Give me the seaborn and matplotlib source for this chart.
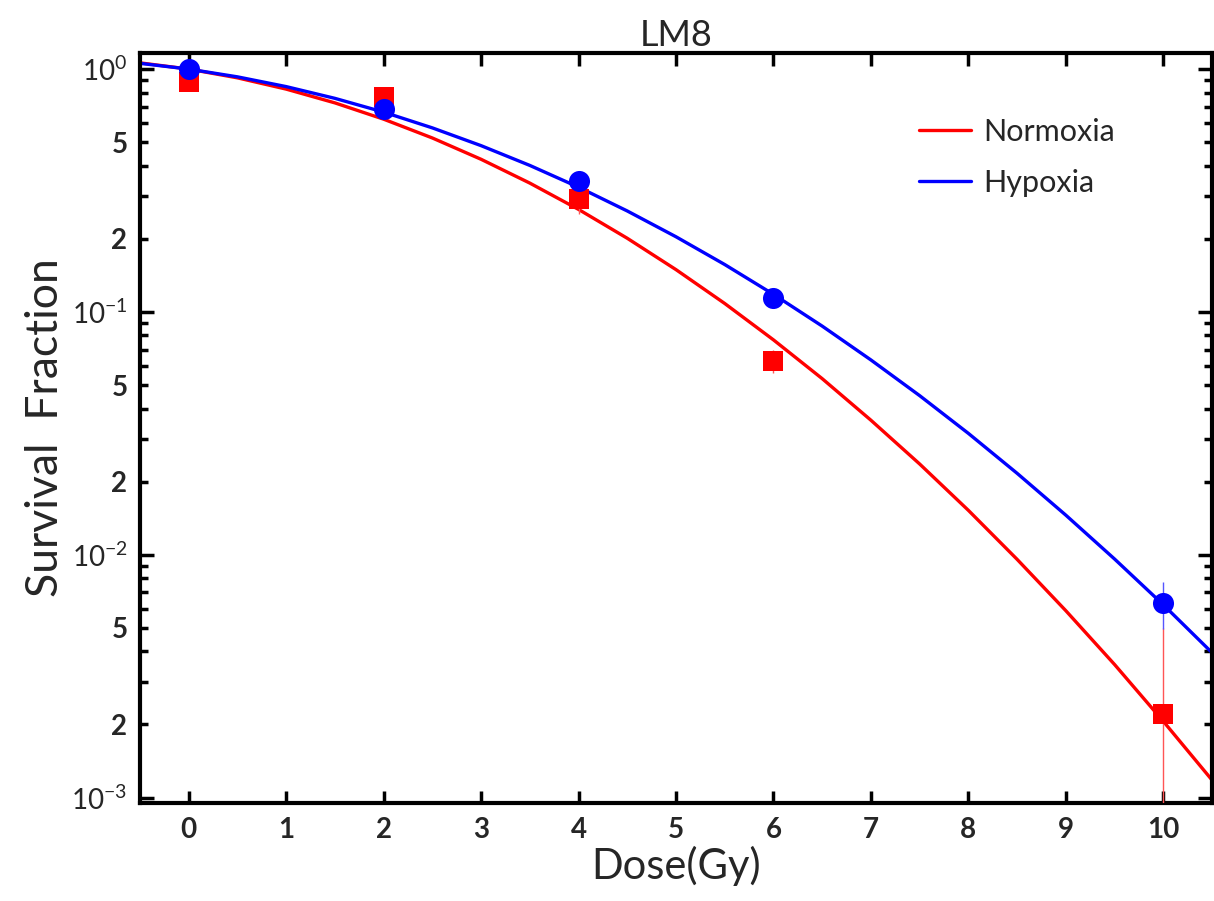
import numpy as np
import pandas as pd
import seaborn as sns
import matplotlib.pyplot as plt
from matplotlib.ticker import FixedLocator, FixedFormatter

# measured points (dose in Gy, survival fraction)
dose_pts = [0, 2, 4, 6, 10]
normoxia_sf = [0.884, 0.767, 0.292, 0.0629, 0.0022]
normoxia_err = [0.02, 0.02, 0.04, 0.007, 0.0028]
hypoxia_sf = [1.0, 0.684, 0.346, 0.114, 0.00634]
hypoxia_err = [0.01, 0.03, 0.01, 0.005, 0.0014]

# fitted curves, every 0.5 Gy
curve_dose = [-0.5, 0, 0.5, 1, 1.5, 2, 2.5, 3, 3.5, 4, 4.5, 5, 5.5,
              6, 6.5, 7, 7.5, 8, 8.5, 9, 9.5, 10, 10.5]
normoxia_fit = [1.061, 1.0, 0.9203, 0.827, 0.7258, 0.6219, 0.5203, 0.4251,
                0.3392, 0.2643, 0.201, 0.1493, 0.1083, 0.0767, 0.0531,
                0.0358, 0.02364, 0.01523, 0.00957, 0.00588, 0.00353,
                0.00206, 0.00118]
hypoxia_fit = [1.056, 1.0, 0.9291, 0.847, 0.7577, 0.665, 0.5726, 0.4838,
               0.4011, 0.3263, 0.2604, 0.2039, 0.1567, 0.1181, 0.0874,
               0.0634, 0.0452, 0.0316, 0.02164, 0.01455, 0.0096,
               0.00622, 0.00395]

conditions = ['Normoxia', 'Hypoxia']
colors = {'Normoxia': '#ff0000', 'Hypoxia': '#0000ff'}
err_colors = {'Normoxia': '#ff5555', 'Hypoxia': '#5555ff'}

curves = pd.DataFrame({
    'dose': curve_dose * 2,
    'sf': normoxia_fit + hypoxia_fit,
    'condition': ['Normoxia'] * len(curve_dose) + ['Hypoxia'] * len(curve_dose),
})
points = pd.DataFrame({
    'dose': dose_pts * 2,
    'sf': normoxia_sf + hypoxia_sf,
    'err': normoxia_err + hypoxia_err,
    'condition': ['Normoxia'] * len(dose_pts) + ['Hypoxia'] * len(dose_pts),
})

sns.set_theme(style='ticks')
plt.rcParams['font.family'] = ['Lato', 'DejaVu Sans']
plt.rcParams['mathtext.fontset'] = 'custom'
plt.rcParams['mathtext.rm'] = 'Lato'
plt.rcParams['mathtext.it'] = 'Lato'

fig = plt.figure(figsize=(12.14, 9.01), dpi=100)
ax = fig.add_axes([0.1153, 0.1088, 0.8831, 0.8324])

sns.lineplot(data=curves, x='dose', y='sf', hue='condition',
             hue_order=conditions, palette=colors, linewidth=2.4,
             ax=ax, zorder=2)

# error bars
for c in conditions:
    sub = points[points.condition == c]
    ax.errorbar(sub.dose, sub.sf, yerr=sub.err, fmt='none',
                ecolor=err_colors[c], elinewidth=1, capsize=0, zorder=3)

sns.scatterplot(data=points[points.condition == 'Normoxia'], x='dose', y='sf',
                color=colors['Normoxia'], marker='s', s=190, linewidth=0,
                legend=False, ax=ax, zorder=4)
sns.scatterplot(data=points[points.condition == 'Hypoxia'], x='dose', y='sf',
                color=colors['Hypoxia'], marker='o', s=230, linewidth=0,
                legend=False, ax=ax, zorder=5)

ax.set_yscale('log')
ax.set_xlim(-0.5, 10.5)
ax.set_ylim(0.00095, 1.165)

ax.set_xticks(range(0, 11))
ax.set_xticklabels([str(i) for i in range(0, 11)])

major = [1e-3, 1e-2, 1e-1, 1]
ax.yaxis.set_major_locator(FixedLocator(major))
ax.yaxis.set_major_formatter(FixedFormatter(
    [r'$10^{-3}$', r'$10^{-2}$', r'$10^{-1}$', r'$10^{0}$']))
minor = []
minor_lab = []
for dec in [1e-3, 1e-2, 1e-1]:
    for m in range(2, 10):
        minor.append(m * dec)
        minor_lab.append(str(m) if m in (2, 5) else '')
ax.yaxis.set_minor_locator(FixedLocator(minor))
ax.yaxis.set_minor_formatter(FixedFormatter(minor_lab))

ax.tick_params(axis='both', which='both', direction='in', color='black',
               top=True, right=True, labelsize=20, width=2.5)
ax.tick_params(axis='y', which='major', length=10, pad=9)
ax.tick_params(axis='y', which='minor', length=6, pad=9)
ax.tick_params(axis='x', which='major', length=9, pad=10)
ax.tick_params(axis='x', which='minor', bottom=False, top=False)
for lab in ax.get_xticklabels() + ax.get_yticklabels(which='both'):
    lab.set_fontweight('bold')

for s in ax.spines.values():
    s.set_linewidth(3)
    s.set_color('black')

ax.set_xlabel('Dose(Gy)', fontsize=30, labelpad=2)
ax.set_ylabel('Survival  Fraction', fontsize=32, labelpad=4)
ax.set_title('LM8', fontsize=26, pad=5)

handles, labels = ax.get_legend_handles_labels()
ax.legend(handles=handles, labels=labels, loc='upper right',
          bbox_to_anchor=(0.935, 0.95), frameon=False, fontsize=22,
          handlelength=1.7, handletextpad=0.4, labelspacing=0.75)

fig.savefig('out.png', dpi=100)
